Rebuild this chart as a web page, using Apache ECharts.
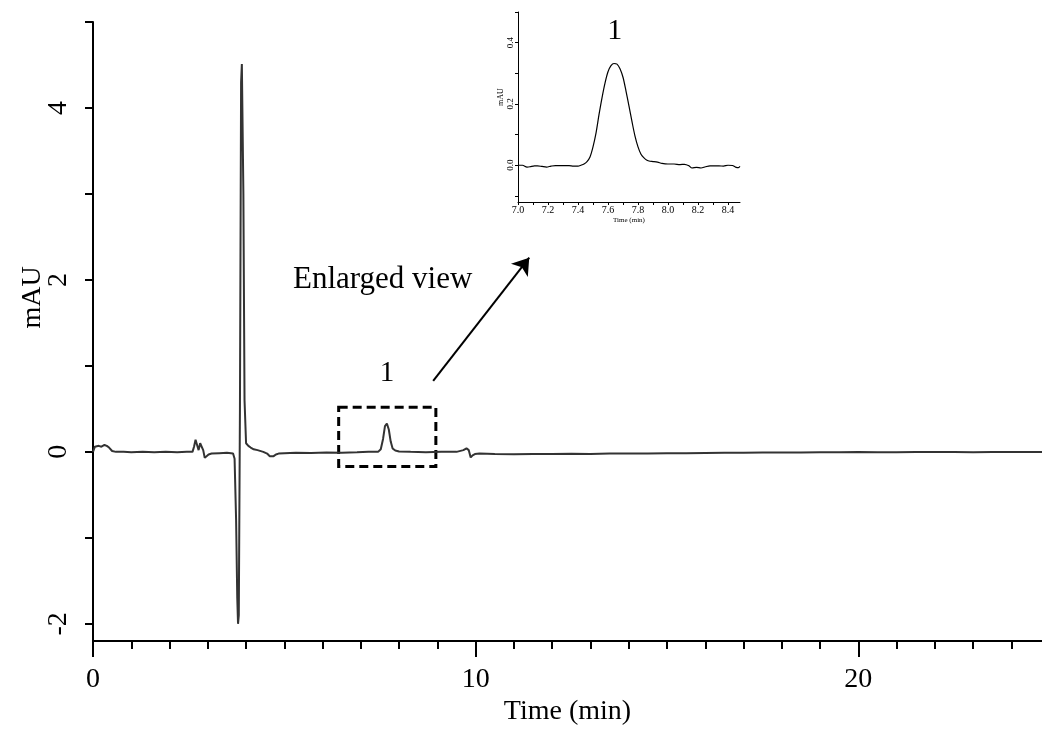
<!DOCTYPE html>
<html>
<head>
<meta charset="utf-8">
<script src="https://cdn.jsdelivr.net/npm/echarts@6/dist/echarts.min.js"></script>
<style>
html,body{margin:0;padding:0;background:#fff;}
#chart{width:1042px;height:731px;}
</style>
</head>
<body>
<div id="chart"></div>
<script>
// ---------- data ----------
const mainTime = [0, 0.05, 0.1, 0.15, 0.22, 0.3, 0.36, 0.42, 0.5, 0.6, 0.8, 1.0, 1.3, 1.6, 1.9, 2.2, 2.45, 2.6, 2.64, 2.68, 2.72, 2.76, 2.8, 2.84, 2.88, 2.92, 2.96, 3.02, 3.1, 3.3, 3.5, 3.66, 3.7, 3.74, 3.77, 3.79, 3.81, 3.84, 3.87, 3.89, 3.93, 3.96, 4.0, 4.06, 4.12, 4.2, 4.3, 4.45, 4.55, 4.62, 4.67, 4.72, 4.78, 4.85, 5.0, 5.3, 5.7, 6.1, 6.5, 6.9, 7.2, 7.45, 7.52, 7.58, 7.63, 7.68, 7.73, 7.78, 7.83, 7.9, 8.0, 8.3, 8.7, 9.1, 9.5, 9.68, 9.76, 9.82, 9.87, 9.92, 9.98, 10.1, 10.5, 11, 11.5, 12, 12.5, 13, 13.5, 14, 14.5, 15, 15.5, 16, 16.5, 17, 17.5, 18, 18.5, 19, 19.5, 20, 20.5, 21, 21.5, 22, 22.5, 23, 23.5, 24, 24.5, 24.8];
const mainSignal = [0.0, 0.06, 0.08, 0.07, 0.06, 0.08, 0.07, 0.05, 0.01, 0.0, 0.0, -0.005, 0.0, -0.005, 0.0, -0.005, 0.0, 0.0, 0.06, 0.14, 0.08, 0.02, 0.1, 0.12, 0.02, -0.07, -0.06, -0.03, -0.02, -0.015, -0.01, -0.02, -0.08, -0.8, -1.7, -2.0, -1.9, 0.5, 4.3, 4.51, 3.0, 0.6, 0.1, 0.07, 0.05, 0.03, 0.02, 0.0, -0.02, -0.05, -0.065, -0.05, -0.03, -0.02, -0.015, -0.01, -0.012, -0.008, -0.01, -0.005, 0.0, 0.0, 0.03, 0.15, 0.3, 0.33, 0.26, 0.12, 0.04, 0.015, 0.005, 0.0, -0.005, 0.0, 0.0, 0.02, 0.04, 0.02, -0.065, -0.04, -0.025, -0.02, -0.025, -0.028, -0.025, -0.025, -0.022, -0.025, -0.02, -0.02, -0.018, -0.015, -0.015, -0.012, -0.01, -0.01, -0.008, -0.006, -0.008, -0.005, -0.005, -0.003, -0.005, -0.004, -0.002, -0.003, -0.002, -0.004, -0.002, -0.001, -0.002, -0.001];

const insetTime = [7.00, 7.03, 7.06, 7.08, 7.11, 7.13, 7.16, 7.19, 7.22, 7.25, 7.28, 7.31, 7.34, 7.37, 7.40, 7.42, 7.44, 7.46, 7.48, 7.50, 7.52, 7.54, 7.56, 7.58, 7.60, 7.62, 7.64, 7.66, 7.68, 7.70, 7.72, 7.74, 7.76, 7.78, 7.80, 7.82, 7.84, 7.86, 7.88, 7.90, 7.93, 7.96, 8.00, 8.04, 8.08, 8.11, 8.14, 8.16, 8.19, 8.22, 8.25, 8.28, 8.31, 8.34, 8.37, 8.40, 8.43, 8.45, 8.47, 8.48];
const insetSignal = [0.000, 0.000, -0.006, -0.005, -0.002, -0.002, -0.004, -0.006, -0.003, -0.001, -0.001, -0.001, -0.001, -0.003, -0.003, 0.000, 0.004, 0.012, 0.027, 0.060, 0.105, 0.165, 0.220, 0.268, 0.305, 0.325, 0.332, 0.330, 0.315, 0.287, 0.242, 0.193, 0.142, 0.095, 0.060, 0.036, 0.024, 0.016, 0.013, 0.012, 0.010, 0.006, 0.004, 0.004, 0.002, 0.003, -0.002, -0.009, -0.007, -0.009, -0.005, -0.002, -0.002, -0.002, -0.003, 0.000, -0.001, -0.006, -0.008, -0.004];

const mainXMajorTicks = [0, 10, 20];
const mainXMinorTicks = [1, 2, 3, 4, 5, 6, 7, 8, 9, 11, 12, 13, 14, 15, 16, 17, 18, 19, 21, 22, 23, 24];
const mainYTicks = [-2, -1, 0, 1, 2, 3, 4, 5];
const mainYLabels = [-2, 0, 2, 4];
const insetXTicks = [7.0, 7.1, 7.2, 7.3, 7.4, 7.5, 7.6, 7.7, 7.8, 7.9, 8.0, 8.1, 8.2, 8.3, 8.4];
const insetXLabels = [7.0, 7.2, 7.4, 7.6, 7.8, 8.0, 8.2, 8.4];
const insetYTicks = [-0.1, 0.0, 0.1, 0.2, 0.3, 0.4, 0.5];
const insetYLabels = [0.0, 0.2, 0.4];

// annotations (data coordinates)
const peakLabel = {text: '1', time: 7.68, value: 0.91};
const enlargedLabel = {text: 'Enlarged view', time: 7.57, value: 2.0};
const boxCorners = [[6.42, 0.52], [8.96, -0.169]];
const arrowEnds = [[8.89, 0.827], [11.40, 2.258]];
const insetPeakLabel = {text: '1', time: 7.645, value: 0.438};

// ---------- chart ----------
const FONT = 'Liberation Serif';
const chart = echarts.init(document.getElementById('chart'), null, {renderer: 'canvas'});
const zip = (a, b) => a.map((t, i) => [t, b[i]]);

const option = {
  backgroundColor: '#fff',
  animation: false,
  textStyle: {fontFamily: FONT, color: '#000'},
  grid: [
    {left: 93, right: 0, top: 22, bottom: 84, containLabel: false},
    {left: 518, top: 12, width: 222, height: 190, containLabel: false}
  ],
  xAxis: [
    {
      gridIndex: 0, type: 'value', min: 0, max: 24.8,
      axisLine: {onZero: false, lineStyle: {color: '#000', width: 2}},
      axisTick: {customValues: mainXMajorTicks, length: 16, lineStyle: {color: '#000', width: 2}},
      axisLabel: {customValues: mainXMajorTicks, fontFamily: FONT, fontSize: 28, color: '#000', margin: 25},
      splitLine: {show: false},
      name: 'Time (min)', nameLocation: 'middle', nameGap: 57, nameMoveOverlap: false,
      nameTextStyle: {fontFamily: FONT, fontSize: 28, color: '#000'}
    },
    {
      gridIndex: 0, type: 'value', min: 0, max: 24.8, position: 'bottom',
      axisLine: {show: false, onZero: false},
      axisTick: {customValues: mainXMinorTicks, length: 8, lineStyle: {color: '#000', width: 2}},
      axisLabel: {show: false},
      splitLine: {show: false}
    },
    {
      gridIndex: 1, type: 'value', min: 7.0, max: 8.48,
      axisLine: {onZero: false, lineStyle: {color: '#000', width: 1}},
      axisTick: {customValues: insetXTicks, length: 3, lineStyle: {color: '#000', width: 1}},
      axisLabel: {customValues: insetXLabels, formatter: v => v.toFixed(1), fontFamily: FONT, fontSize: 10, color: '#000', margin: 3},
      splitLine: {show: false},
      name: 'Time (min)', nameLocation: 'middle', nameGap: 15,
      nameTextStyle: {fontFamily: FONT, fontSize: 7, color: '#000'}
    }
  ],
  yAxis: [
    {
      gridIndex: 0, type: 'value', min: -2.2, max: 5,
      axisLine: {show: true, onZero: false, lineStyle: {color: '#000', width: 2}},
      axisTick: {show: true, customValues: mainYTicks, length: 8, lineStyle: {color: '#000', width: 2}},
      axisLabel: {customValues: mainYLabels, rotate: 90, fontFamily: FONT, fontSize: 28, color: '#000', margin: 20},
      splitLine: {show: false},
      name: 'mAU', nameLocation: 'middle', nameGap: 46, nameMoveOverlap: false,
      nameTextStyle: {fontFamily: FONT, fontSize: 28, color: '#000', padding: [0, 0, 0, 68]}
    },
    {
      gridIndex: 1, type: 'value', min: -0.12, max: 0.5,
      axisLine: {show: true, onZero: false, lineStyle: {color: '#000', width: 1}},
      axisTick: {show: true, customValues: insetYTicks, length: 3, lineStyle: {color: '#000', width: 1}},
      axisLabel: {customValues: insetYLabels, formatter: v => v.toFixed(1), rotate: 90, fontFamily: FONT, fontSize: 9, color: '#000', margin: 3},
      splitLine: {show: false},
      name: 'mAU', nameLocation: 'middle', nameGap: 13,
      nameTextStyle: {fontFamily: FONT, fontSize: 8, color: '#000', padding: [0, 0, 0, 20]}
    }
  ],
  series: [
    {
      type: 'line', xAxisIndex: 0, yAxisIndex: 0,
      data: zip(mainTime, mainSignal),
      showSymbol: false, smooth: false,
      lineStyle: {color: '#333', width: 2},
      markArea: {
        silent: true,
        itemStyle: {color: 'rgba(0,0,0,0)', borderColor: '#000', borderWidth: 3, borderType: [9, 5]},
        data: [[{coord: boxCorners[0]}, {coord: boxCorners[1]}]]
      },
      markLine: {
        silent: true, animation: false,
        symbol: ['none', 'arrow'], symbolSize: 16,
        lineStyle: {color: '#000', width: 2, type: 'solid'},
        itemStyle: {color: '#000'},
        label: {show: false},
        data: [[{coord: arrowEnds[0]}, {coord: arrowEnds[1]}]]
      },
      markPoint: {
        silent: true, symbol: 'circle', symbolSize: 1,
        itemStyle: {color: 'rgba(0,0,0,0)'},
        data: [
          {coord: [peakLabel.time, peakLabel.value], label: {show: true, position: 'inside', formatter: peakLabel.text, fontFamily: FONT, fontSize: 29, color: '#000'}},
          {coord: [enlargedLabel.time, enlargedLabel.value], label: {show: true, position: 'inside', formatter: enlargedLabel.text, fontFamily: FONT, fontSize: 31, color: '#000'}}
        ]
      }
    },
    {
      type: 'line', xAxisIndex: 2, yAxisIndex: 1,
      data: zip(insetTime, insetSignal),
      showSymbol: false, smooth: 0.3,
      lineStyle: {color: '#000', width: 1.2},
      markPoint: {
        silent: true, symbol: 'circle', symbolSize: 1,
        itemStyle: {color: 'rgba(0,0,0,0)'},
        data: [
          {coord: [insetPeakLabel.time, insetPeakLabel.value], label: {show: true, position: 'inside', formatter: insetPeakLabel.text, fontFamily: FONT, fontSize: 30, color: '#000'}}
        ]
      }
    }
  ]
};
chart.setOption(option);
</script>
</body>
</html>
